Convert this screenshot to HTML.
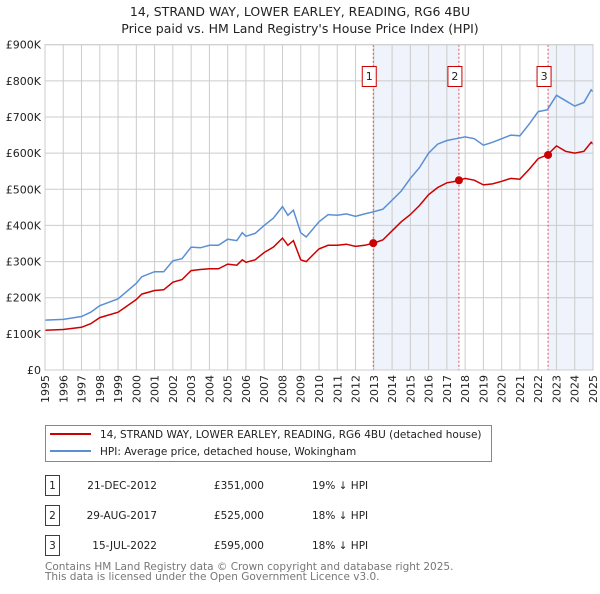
<!DOCTYPE html>
<html><head><meta charset="utf-8"><style>
body{margin:0;background:#fff;font-family:"DejaVu Sans","Liberation Sans",sans-serif;}
svg text{font-family:"DejaVu Sans","Liberation Sans",sans-serif;}
</style></head><body>
<svg id="c" width="600" height="590" viewBox="0 0 600 590" xmlns="http://www.w3.org/2000/svg">
<text x="300" y="16" text-anchor="middle" font-size="12.5" fill="#222">14, STRAND WAY, LOWER EARLEY, READING, RG6 4BU</text>
<text x="300" y="33" text-anchor="middle" font-size="12.5" fill="#222">Price paid vs. HM Land Registry's House Price Index (HPI)</text>
<g id="grid"></g><g id="series"></g><g id="axes"></g>
<g>
<rect x="45.5" y="425.5" width="446" height="36" fill="#fff" stroke="#888"/>
<line x1="50" y1="434" x2="91" y2="434" stroke="#cc0000" stroke-width="2"/>
<text x="100" y="438" font-size="10.5" fill="#222">14, STRAND WAY, LOWER EARLEY, READING, RG6 4BU (detached house)</text>
<line x1="50" y1="451" x2="91" y2="451" stroke="#5b8fd4" stroke-width="2"/>
<text x="100" y="455" font-size="10.5" fill="#222">HPI: Average price, detached house, Wokingham</text>
</g>
<g id="table" font-size="10.5" fill="#222"></g>
<text x="45" y="570" font-size="10.5" fill="#777">Contains HM Land Registry data © Crown copyright and database right 2025.</text>
<text x="45" y="580" font-size="10.5" fill="#777">This data is licensed under the Open Government Licence v3.0.</text>
</svg>
<script>
const years=[1995,1996,1997,1997.5,1998,1999,2000,2000.3,2001,2001.5,2002,2002.5,2003,2003.5,2004,2004.5,2005,2005.5,2005.8,2006,2006.5,2007,2007.5,2008,2008.3,2008.6,2009,2009.3,2010,2010.5,2011,2011.5,2012,2012.5,2013,2013.5,2014,2014.5,2015,2015.5,2016,2016.5,2017,2017.5,2018,2018.5,2019,2019.5,2020,2020.5,2021,2021.5,2022,2022.5,2023,2023.5,2024,2024.5,2024.9,2025];
const hpi=[138,140,148,160,178,197,240,258,272,272,302,308,340,338,345,345,362,358,380,370,378,400,420,452,428,442,380,368,410,430,428,432,425,432,438,445,470,495,530,560,600,625,635,640,645,640,622,630,640,650,648,680,715,720,760,745,730,740,775,770];
const price=[110,112,118,128,145,160,195,210,220,222,243,250,275,278,280,280,293,290,305,298,305,325,340,365,345,358,305,300,335,345,345,348,342,345,351,360,385,410,430,455,485,505,518,522,530,525,512,515,522,530,528,555,585,595,620,605,600,605,630,625];
const yTicks=[0,100,200,300,400,500,600,700,800,900];
const yLabels=["£0","£100K","£200K","£300K","£400K","£500K","£600K","£700K","£800K","£900K"];
const xTicks=[1995,1996,1997,1998,1999,2000,2001,2002,2003,2004,2005,2006,2007,2008,2009,2010,2011,2012,2013,2014,2015,2016,2017,2018,2019,2020,2021,2022,2023,2024,2025];
const saleYears=[2012.97,2017.66,2022.54];
const saleValues=[351,525,595];
const saleLabels=["1","2","3"];
const saleDates=["21-DEC-2012","29-AUG-2017","15-JUL-2022"];
const salePrices=["£351,000","£525,000","£595,000"];
const saleDiffs=["19% ↓ HPI","18% ↓ HPI","18% ↓ HPI"];
const X0=45,X1=593,Y0=370,Y1=44.7;
const xs=y=>X0+(y-1995)/(2025-1995)*(X1-X0);
const ys=v=>Y0-v/900*(Y0-Y1);
const NS="http://www.w3.org/2000/svg";
function mk(p,tag,a){const e=document.createElementNS(NS,tag);for(const k in a)e.setAttribute(k,a[k]);p.appendChild(e);return e;}
const grid=document.getElementById('grid'),ser=document.getElementById('series'),ax=document.getElementById('axes'),tb=document.getElementById('table');
// shading
[[saleYears[0],saleYears[1]],[saleYears[2],2025]].forEach((r,i)=>{
 const e=mk(grid,'rect',{x:xs(r[0]),y:Y1,width:xs(r[1])-xs(r[0]),height:Y0-Y1,fill:'#eef3fc'});
 
 
});
yTicks.forEach((t,i)=>{
 const l=mk(grid,'line',{x1:X0,x2:X1,y1:ys(t),y2:ys(t),stroke:'#ccc','stroke-width':1});
 
 
 const tx=mk(ax,'text',{x:X0-4,y:ys(t)+4,'text-anchor':'end','font-size':11,fill:'#222'});
 tx.textContent=yLabels[i];
 
 
});
xTicks.forEach(t=>{
 const l=mk(grid,'line',{x1:xs(t),x2:xs(t),y1:Y1,y2:Y0,stroke:'#ccc','stroke-width':1});
 
 
 const tx=mk(ax,'text',{x:0,y:0,'text-anchor':'end','font-size':11,fill:'#222',transform:`translate(${xs(t)+4},${Y0+5}) rotate(-90)`});
 tx.textContent=t;
 
 
});
saleYears.forEach((s,i)=>{
 const l=mk(grid,'line',{x1:xs(s),x2:xs(s),y1:Y1,y2:Y0,stroke:'#e05050','stroke-width':1,'stroke-dasharray':'2,2'});
 
 
});
const pl=(arr)=>arr.map((v,i)=>xs(years[i]).toFixed(1)+','+ys(v).toFixed(1)).join(' ');
const hl=mk(ser,'polyline',{points:pl(hpi),fill:'none',stroke:'#5b8fd4','stroke-width':1.5});


const pr=mk(ser,'polyline',{points:pl(price),fill:'none',stroke:'#cc0000','stroke-width':1.5});


saleYears.forEach((s,i)=>{
 const c=mk(ser,'circle',{cx:xs(s),cy:ys(saleValues[i]),r:4,fill:'#cc0000'});
 
 
 const cx=xs(s)-4;
 const b=mk(ser,'rect',{x:cx-7,y:66.5,width:14,height:20,fill:'#fff',stroke:'#cc0000'});
 
 
 const t=mk(ser,'text',{x:cx,y:80,'text-anchor':'middle','font-size':11,fill:'#222'});
 t.textContent=saleLabels[i];
 
 
 const ry=475+i*30;
 const rb=mk(tb,'rect',{x:45.5,y:ry+0.5,width:14,height:20,fill:'#fff',stroke:'#cc0000'});
 
 
 const cells=[[52.5,saleLabels[i],'middle'],[157,saleDates[i],'end'],[264,salePrices[i],'end'],[312,saleDiffs[i],'start']];
 cells.forEach(cl=>{
  const tt=mk(tb,'text',{x:cl[0],y:ry+14,'text-anchor':cl[2],'font-size':10.5,fill:'#222'});
  tt.textContent=cl[1];
  
  
 });
});
const fr=mk(ax,'rect',{x:X0,y:Y1,width:X1-X0,height:Y0-Y1,fill:'none',stroke:'#ccc'});


</script>
</body></html>
